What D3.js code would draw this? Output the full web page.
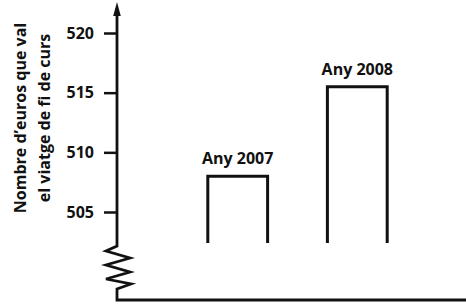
<!DOCTYPE html>
<html>
<head>
<meta charset="utf-8">
<script src="https://cdn.jsdelivr.net/npm/d3@7"></script>
<style>
  body { margin: 0; background: #fff; }
  svg { display: block; }
  text { font-family: "Open Sans", "Noto Sans", sans-serif; font-weight: 700; fill: #111; }
</style>
</head>
<body>
<svg id="chart" width="466" height="305"></svg>
<script>
const years = ["Any 2007", "Any 2008"];
const values = [508, 515.5];
const baseValue = 502.4; // bars are open at the bottom, stop above the break
const yTicks = [505, 510, 515, 520];
const yTitle = ["Nombre d\u2019euros que val", "el viatge de fi de curs"];

const svg = d3.select("#chart");
const axisX = 117, axisBottom = 300;

const y = d3.scaleLinear().domain([505, 520]).range([212, 33]);
const x = d3.scaleBand()
    .domain(years)
    .range([148, 447])
    .paddingInner(0.5)
    .paddingOuter(0.5);

// y axis ticks + labels
const yAxis = svg.append("g")
    .attr("transform", `translate(${axisX},0)`)
    .call(d3.axisLeft(y).tickValues(yTicks).tickSize(13).tickPadding(10).tickFormat(d3.format("d")));
yAxis.select(".domain").remove();
yAxis.selectAll(".tick line").attr("stroke", "#111").attr("stroke-width", 2.5);
yAxis.selectAll(".tick text")
    .style("font-family", "'Open Sans', sans-serif")
    .style("font-weight", 700)
    .style("font-size", "16px")
    .attr("fill", "#111");

// axis line with break (zigzag) near bottom
const zig = [[0, 246], [-11, 251], [13, 258], [-11, 265], [13, 272], [-11, 279], [14, 284], [0, 289], [0, axisBottom]];
const line = d3.line();
svg.append("path")
    .attr("d", line([[axisX, 14], ...zig.map(p => [axisX + p[0], p[1]]), [466, axisBottom]]))
    .attr("fill", "none")
    .attr("stroke", "#111")
    .attr("stroke-width", 2.8)
    .attr("stroke-linejoin", "miter");

// arrow head on y axis
svg.append("path")
    .attr("d", `M${axisX},2 L${axisX - 3.8},16 L${axisX + 3.8},16 Z`)
    .attr("fill", "#111");

// open bars
svg.selectAll(".bar")
    .data(values)
    .enter()
    .append("path")
    .attr("class", "bar")
    .attr("d", (d, i) => {
        const x0 = x(years[i]), x1 = x0 + x.bandwidth();
        return `M${x0},${y(baseValue)} V${y(d)} H${x1} V${y(baseValue)}`;
    })
    .attr("fill", "none")
    .attr("stroke", "#111")
    .attr("stroke-width", 3);

// bar labels
svg.selectAll(".lbl")
    .data(values)
    .enter()
    .append("text")
    .attr("class", "lbl")
    .attr("x", (d, i) => x(years[i]) + x.bandwidth() / 2)
    .attr("y", d => y(d) - 12)
    .attr("text-anchor", "middle")
    .style("font-size", "16px")
    .text((d, i) => years[i]);

// y title (two lines, rotated)
const title = svg.append("text")
    .attr("transform", "translate(0,118) rotate(-90)")
    .attr("text-anchor", "middle")
    .style("font-size", "16px");
title.selectAll("tspan")
    .data(yTitle)
    .enter()
    .append("tspan")
    .attr("x", 0)
    .attr("y", (d, i) => 26 + i * 24)
    .text(d => d);
</script>
</body>
</html>
